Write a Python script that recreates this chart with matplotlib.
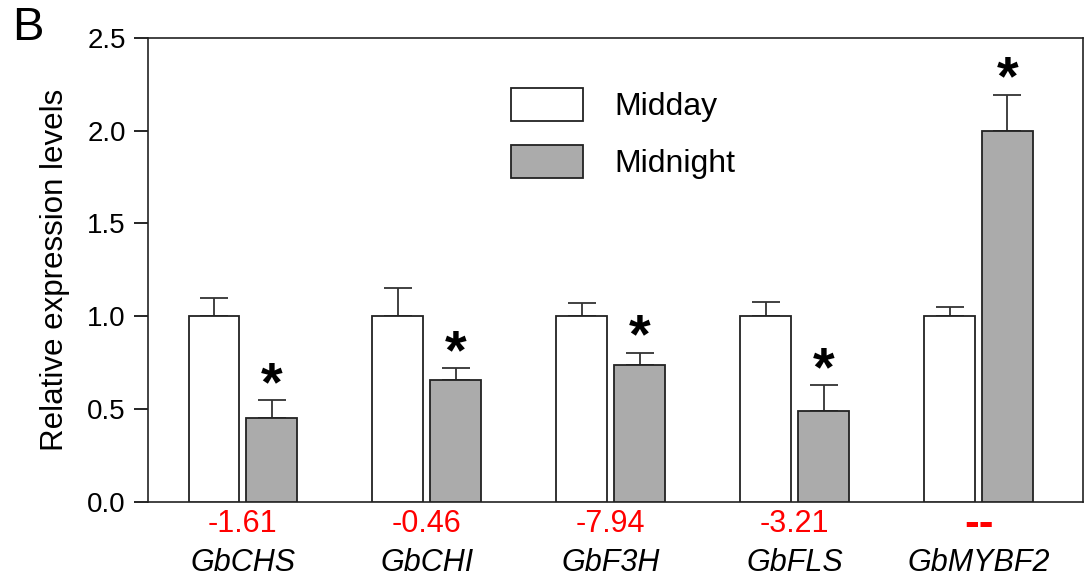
import matplotlib
matplotlib.use("Agg")
import matplotlib.pyplot as plt
import matplotlib.transforms as mtransforms
import numpy as np

plt.rcParams['font.family'] = ['Liberation Sans', 'DejaVu Sans']

genes = ["GbCHS", "GbCHI", "GbF3H", "GbFLS", "GbMYBF2"]
fold_labels = ["-1.61", "-0.46", "-7.94", "-3.21", "--"]
midday = [1.0, 1.0, 1.0, 1.0, 1.0]
midday_err = [0.10, 0.15, 0.07, 0.075, 0.052]
midnight = [0.45, 0.657, 0.736, 0.488, 2.0]
midnight_err = [0.099, 0.063, 0.068, 0.14, 0.195]
significant = [True, True, True, True, True]
yticks = [0.0, 0.5, 1.0, 1.5, 2.0, 2.5]

fig = plt.figure(figsize=(10.88, 5.85), dpi=100)
ax = fig.add_axes([148/1088, 1-501.7/585, (1083-148)/1088, (501.7-38)/585])

x = np.arange(len(genes))
w = 0.277
off = 0.157
ekw = dict(ecolor='#333333', elinewidth=1.3, capsize=10, capthick=1.3)
ax.bar(x - off, midday, w, color='white', edgecolor='#222222', linewidth=1.3,
       label='Midday', zorder=3)
ax.errorbar(x - off, midday, yerr=[np.zeros(len(x)), midday_err], fmt='none', zorder=2, **ekw)
ax.bar(x + off, midnight, w, color='#ababab', edgecolor='#222222', linewidth=1.3,
       label='Midnight', zorder=3)
ax.errorbar(x + off, midnight, yerr=[np.zeros(len(x)), midnight_err], fmt='none', zorder=2, **ekw)

for xi, m, e, s in zip(x, midnight, midnight_err, significant):
    if s:
        ax.annotate('*', xy=(xi + off, m + e), xytext=(0, 0), textcoords='offset points',
                    ha='center', va='baseline', fontsize=40, fontweight='bold', color='black')

ax.set_xlim(-0.516, 4.568)
ax.set_ylim(0, 2.5)
ax.set_yticks(yticks)
ax.set_yticklabels([f"{t:.1f}" for t in yticks], fontsize=20)
ax.tick_params(axis='y', length=10, width=1.2, pad=6, direction='out')
ax.set_xticks(x)
ax.set_xticklabels([])
ax.tick_params(axis='x', length=0)
for sp in ax.spines.values():
    sp.set_linewidth(1.2)
    sp.set_color('#222222')

trans = mtransforms.blended_transform_factory(ax.transData, ax.transAxes)
for xi, lab, g in zip(x, fold_labels, genes):
    if lab == "--":
        ax.text(xi, -0.05, lab, transform=trans, ha='center', va='center',
                fontsize=32, color='#ff0000', fontweight='bold')
    else:
        ax.text(xi, -0.048, lab, transform=trans, ha='center', va='center',
                fontsize=22, color='#ff0000')
    ax.text(xi, -0.132, g, transform=trans, ha='center', va='center',
            fontsize=22, fontstyle='italic', color='black')

ax.set_ylabel('Relative expression levels', fontsize=22.5, labelpad=12)

ax.legend(loc='upper left', bbox_to_anchor=(0.388, 0.893), frameon=False,
          fontsize=23, handlelength=2.25, handleheight=1.25, handletextpad=1.0,
          labelspacing=0.7, borderpad=0, borderaxespad=0)

fig.text(12/1088, 1-28/585, 'B', fontsize=34, ha='left', va='center')

fig.savefig('out.png', dpi=100)
